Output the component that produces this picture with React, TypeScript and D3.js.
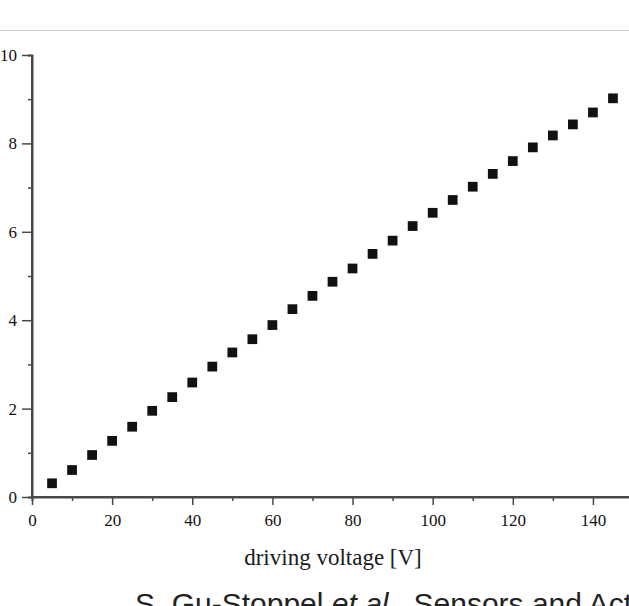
import React, { useRef, useEffect } from 'react';
import * as d3 from 'd3';

// driving voltage [V]
const voltages = [5, 10, 15, 20, 25, 30, 35, 40, 45, 50, 55, 60, 65, 70, 75, 80, 85, 90, 95, 100, 105, 110, 115, 120, 125, 130, 135, 140, 145];
// measured response
const values = [0.31, 0.61, 0.95, 1.27, 1.59, 1.95, 2.26, 2.59, 2.95, 3.27, 3.57, 3.89, 4.25, 4.55, 4.87, 5.17, 5.5, 5.8, 6.13, 6.43, 6.72, 7.02, 7.31, 7.6, 7.91, 8.18, 8.43, 8.7, 9.02];
const xMajorTicks = [0, 20, 40, 60, 80, 100, 120, 140];
const xMinorTicks = [10, 30, 50, 70, 90, 110, 130, 150];
const yMajorTicks = [0, 2, 4, 6, 8, 10];
const yMinorTicks = [1, 3, 5, 7, 9];
const xLabel = 'driving voltage [V]';
const caption = 'S. Gu-Stoppel ';

const W = 629;
const H = 606;

const App = () => {
    const svgRef = useRef<SVGSVGElement>(null);

    useEffect(() => {
        const svg = d3.select(svgRef.current);
        svg.selectAll('*').remove();

        const x = d3.scaleLinear().domain([0, 150]).range([32, 633]);
        const y = d3.scaleLinear().domain([0, 10]).range([497, 55]);

        // thin separator at the top
        svg.append('line')
            .attr('x1', 0).attr('x2', W)
            .attr('y1', 30.5).attr('y2', 30.5)
            .attr('stroke', '#c8c8c8').attr('stroke-width', 1);

        const axisColor = '#484848';
        const tickFont = '"Liberation Serif", "DejaVu Serif", serif';

        // x axis
        const gxMinor = svg.append('g').attr('transform', `translate(0,${y(0)})`);
        gxMinor.call(d3.axisBottom(x).tickValues(xMinorTicks).tickSize(4).tickFormat(() => ''));
        const gx = svg.append('g').attr('transform', `translate(0,${y(0)})`);
        gx.call(d3.axisBottom(x).tickValues(xMajorTicks).tickSize(8).tickPadding(9).tickFormat(d3.format('d')));

        // y axis
        const gyMinor = svg.append('g').attr('transform', `translate(${x(0)},0)`);
        gyMinor.call(d3.axisLeft(y).tickValues(yMinorTicks).tickSize(4).tickFormat(() => ''));
        const gy = svg.append('g').attr('transform', `translate(${x(0)},0)`);
        gy.call(d3.axisLeft(y).tickValues(yMajorTicks).tickSize(10).tickPadding(5).tickFormat(d3.format('d')));

        [gx, gxMinor, gy, gyMinor].forEach(g => {
            g.select('.domain').attr('stroke', axisColor).attr('stroke-width', 2);
            g.selectAll('.tick line').attr('stroke', axisColor).attr('stroke-width', 1.5);
            g.selectAll('.tick text')
                .attr('fill', '#111')
                .style('font-family', tickFont)
                .style('font-size', '17px');
        });
        gx.select('.domain').attr('d', `M${x(0)},0H${W + 10}`);
        gy.select('.domain').attr('d', `M0,${y(10)}V${y(0)}`);

        // data points
        const points = voltages.map((v, i) => ({ v, val: values[i] }));
        svg.append('g')
            .selectAll('path')
            .data(points)
            .enter()
            .append('path')
            .attr('transform', d => `translate(${x(d.v)},${y(d.val)})`)
            .attr('d', d3.symbol(d3.symbolSquare, 95)())
            .attr('fill', '#111');

        // axis title
        svg.append('text')
            .attr('x', 333)
            .attr('y', 565)
            .attr('text-anchor', 'middle')
            .attr('fill', '#1a1a1a')
            .style('font-family', tickFont)
            .style('font-size', '23px')
            .text(xLabel);

        // source caption (cut by the picture's edge, as in the source)
        const cap = svg.append('text')
            .attr('x', 135)
            .attr('y', 614)
            .attr('fill', '#222')
            .style('font-family', '"Liberation Sans", Arial, sans-serif')
            .style('font-size', '30px');
        cap.append('tspan').text(caption);
        cap.append('tspan').style('font-style', 'italic').text('et al.');
        cap.append('tspan').text(', Sensors and Actuators A');
    }, []);

    return (
        <svg
            ref={svgRef}
            width={W}
            height={H}
            style={{ position: 'absolute', left: 0, top: 0, background: '#fff', overflow: 'hidden' }}
        />
    );
};

export default App;
